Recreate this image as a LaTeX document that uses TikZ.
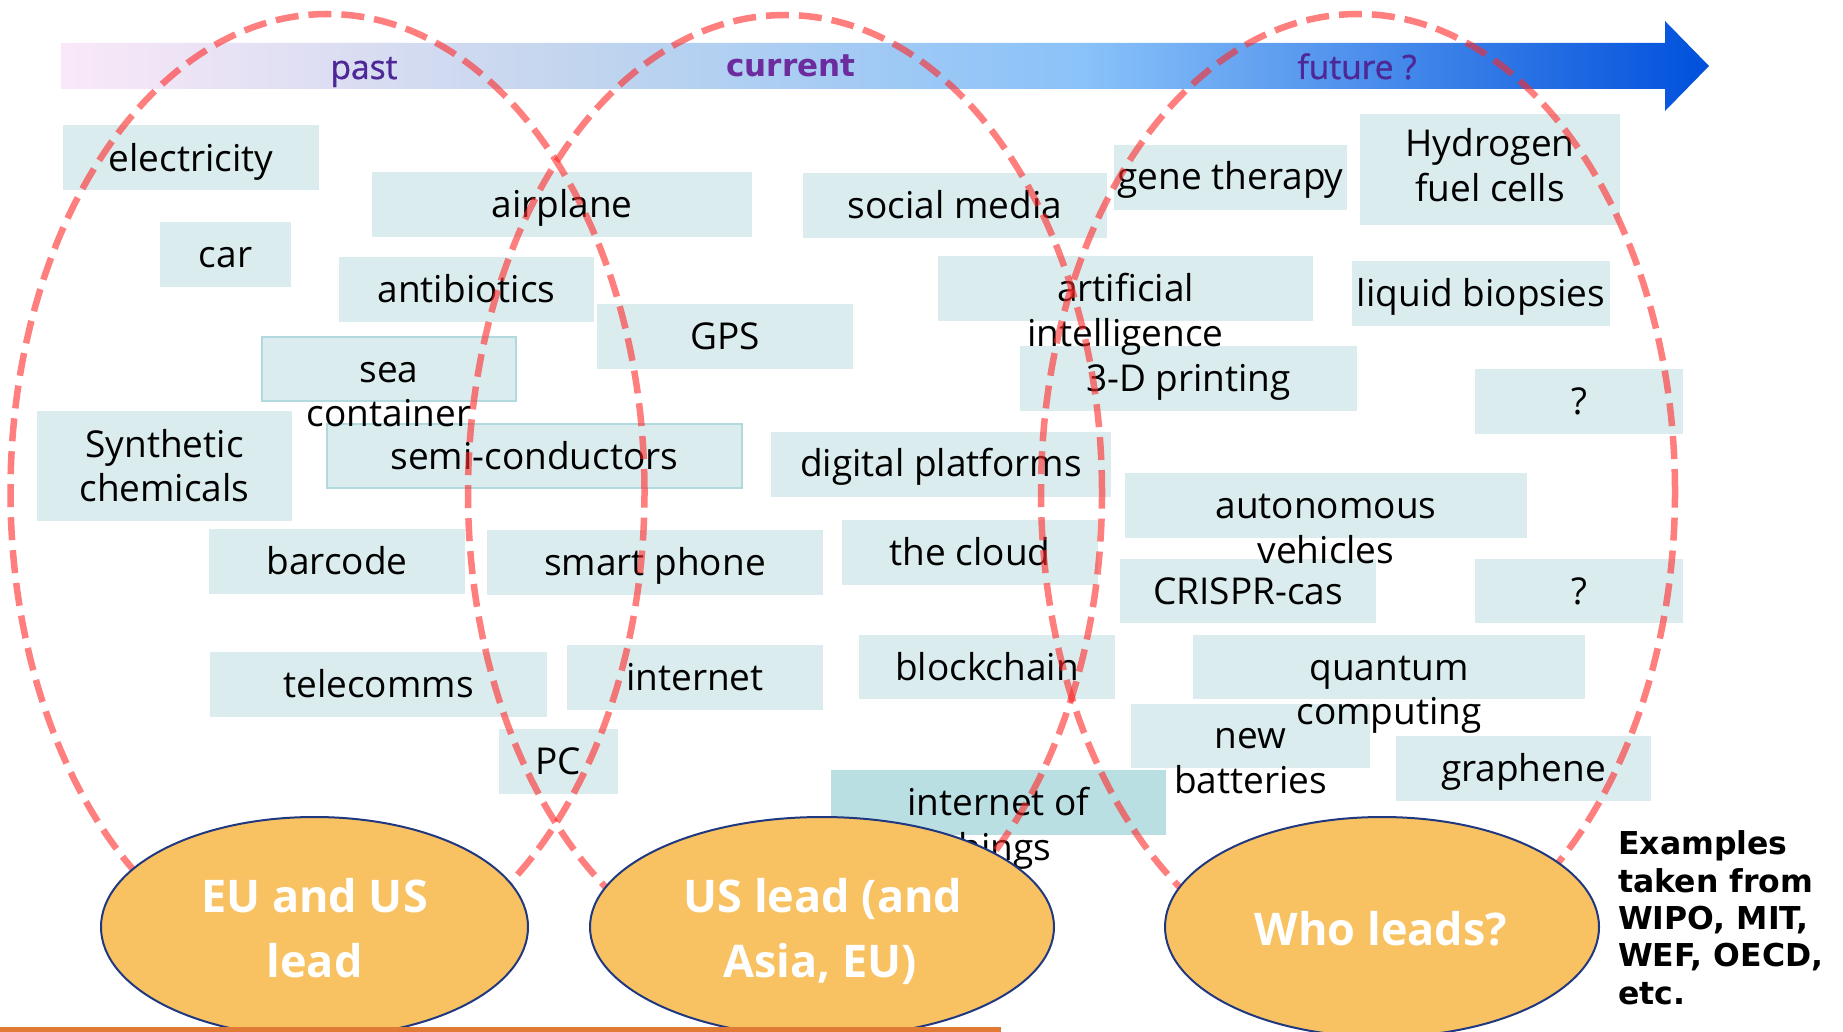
\documentclass[tikz,border=0pt]{standalone}
\usepackage{fontspec}
\setmainfont{Open Sans}
\newfontfamily\notefont{DejaVu Sans}
\newfontfamily\tlfont[FakeBold=1]{Open Sans}
\definecolor{boxfill}{RGB}{218,236,238}
\definecolor{iotfill}{RGB}{185,223,227}
\definecolor{boxline}{RGB}{178,218,222}
\definecolor{leadfill}{RGB}{248,194,99}
\definecolor{leadline}{RGB}{32,56,128}
\definecolor{tlpurple}{RGB}{78,40,150}
\definecolor{tlpurpleb}{RGB}{108,44,158}
\definecolor{dashred}{RGB}{255,40,40}
\definecolor{lineorange}{RGB}{224,122,53}
\definecolor{tla}{RGB}{250,232,248}
\definecolor{tlb}{RGB}{196,214,238}
\definecolor{tlc}{RGB}{138,194,249}
\definecolor{tld}{RGB}{0,80,220}
\pgfdeclarehorizontalshading{timeline}{100bp}{color(0bp)=(tla); color(25bp)=(tla); color(40bp)=(tlb); color(56bp)=(tlc); color(75bp)=(tld); color(100bp)=(tld)}
\tikzset{
  boxst/.style={rectangle, fill=boxfill, inner sep=0pt, outer sep=0pt},
  boxlbl/.style={anchor=base, inner sep=0pt, font=\fontsize{37}{45}\selectfont},
  dashell/.style={draw=dashred, draw opacity=0.6, line width=6.5pt, dash pattern=on 23pt off 10pt},
  leadell/.style={ellipse, fill=leadfill, draw=leadline, line width=2pt, inner sep=0pt},
  leadtxt/.style={anchor=base, inner sep=0pt, text=white, font=\fontsize{45}{55}\selectfont\bfseries},
  tlab/.style={anchor=base, inner sep=0pt, text=tlpurple, font=\tlfont\fontsize{33.5}{40}\selectfont},
  tlabb/.style={anchor=base, inner sep=0pt, text=tlpurpleb, font=\notefont\bfseries\fontsize{31}{40}\selectfont},
  notetxt/.style={anchor=base west, inner sep=0pt, font=\notefont\bfseries\fontsize{31.5}{37}\selectfont}
}
\usetikzlibrary{shapes.geometric}
\newcommand{\tbox}[6][]{\node[boxst,#1, minimum width={(#4)-(#2)}, minimum height={(#5)-(#3)}] (#6) at ({((#2)+(#4))/2},{((#3)+(#5))/2}) {};}
\newcommand{\tlbl}[4]{\node[boxlbl] (#1) at (#2,#3) {#4};}
\begin{document}
\begin{tikzpicture}[x=1pt,y=-1pt]
\useasboundingbox (0,0) rectangle (1843,1032);
\fill[white] (0,0) rectangle (1843,1032);
% timeline arrow
\shade[shading=timeline] (61,43) -- (1665,43) -- (1665,21) -- (1709,66) -- (1665,111) -- (1665,89) -- (61,89) -- cycle;
\node[tlab] (past) at (364,79) {past};
\node[tlabb] (current) at (791,77) {current};
\node[tlab] (future) at (1357,79) {future ?};
% boxes
\tbox{63}{125}{319}{190}{bElec}
\tbox{160}{222}{291}{287}{bCar}
\tbox{372}{172}{752}{237}{bAirp}
\tbox{339}{257}{594}{322}{bAnti}
\tbox{803}{173}{1107}{238}{bSoc}
\tbox{1114}{145}{1347}{210}{bGene}
\tbox{1360}{114}{1620}{225}{bHydr}
\tbox{938}{256}{1313}{321}{bAI}
\tbox{1352}{261}{1610}{326}{bLiq}
\tbox{597}{304}{853}{369}{bGPS}
\tbox[draw=boxline, line width=2pt]{262}{337}{516}{401}{bSea}
\tbox{37}{411}{292}{521}{bSyn}
\tbox[draw=boxline, line width=2pt]{327}{424}{742}{488}{bSemi}
\tbox{771}{432}{1111}{497}{bDig}
\tbox{209}{529}{465}{594}{bBar}
\tbox{487}{530}{823}{595}{bSmart}
\tbox{842}{520}{1098}{585}{bCloud}
\tbox{210}{652}{547}{717}{bTele}
\tbox{567}{645}{823}{710}{bInet}
\tbox{859}{635}{1115}{699}{bBlock}
\tbox{499}{729}{618}{794}{bPC}
\tbox[fill=iotfill]{831}{770}{1166}{835}{bIoT}
\tbox{1020}{346}{1357}{411}{bPrint}
\tbox{1475}{369}{1683}{434}{bQa}
\tbox{1125}{473}{1527}{538}{bAuto}
\tbox{1120}{559}{1376}{623}{bCrispr}
\tbox{1475}{559}{1683}{623}{bQb}
\tbox{1193}{635}{1585}{699}{bQuant}
\tbox{1131}{704}{1370}{768}{bBatt}
\tbox{1396}{736}{1651}{801}{bGraph}
% texts
\tlbl{tElec}{191}{172}{electricity}
\tlbl{tCar}{225.5}{267}{car}
\tlbl{tAirp}{562}{218}{airplane}
\tlbl{tAnti}{466.5}{302.5}{antibiotics}
\tlbl{tSoc}{955}{218.5}{social media}
\tlbl{tGene}{1230.5}{190}{gene therapy}
\tlbl{tHydrA}{1490}{157}{Hydrogen}
\tlbl{tHydrB}{1490}{202}{fuel cells}
\tlbl{tAIa}{1125.5}{301.5}{artificial}
\tlbl{tAIb}{1125.5}{346}{intelligence}
\tlbl{tLiq}{1481}{306.5}{liquid biopsies}
\tlbl{tGPS}{725}{349.5}{GPS}
\tlbl{tSeaA}{389}{382}{sea}
\tlbl{tSeaB}{389}{426.5}{container}
\tlbl{tSynA}{164.5}{457}{Synthetic}
\tlbl{tSynB}{164.5}{501}{chemicals}
\tlbl{tSemi}{534.5}{469}{semi-conductors}
\tlbl{tDig}{941}{476}{digital platforms}
\tlbl{tBar}{337}{574.5}{barcode}
\tlbl{tSmart}{655}{575.5}{smart phone}
\tlbl{tCloud}{970}{565.5}{the cloud}
\tlbl{tTele}{378.5}{697}{telecomms}
\tlbl{tInet}{695}{690.5}{internet}
\tlbl{tBlock}{987}{680}{blockchain}
\tlbl{tPC}{558.5}{774.5}{PC}
\tlbl{tIoTa}{998.5}{815.5}{internet of}
\tlbl{tIoTb}{998.5}{860}{things}
\tlbl{tPrint}{1188.5}{391.5}{3-D printing}
\tlbl{tQa}{1579}{414.5}{?}
\tlbl{tAutoA}{1326}{518.5}{autonomous}
\tlbl{tAutoB}{1326}{563}{vehicles}
\tlbl{tCrispr}{1248}{604}{CRISPR-cas}
\tlbl{tQb}{1579}{604}{?}
\tlbl{tQuantA}{1389}{680}{quantum}
\tlbl{tQuantB}{1389}{724}{computing}
\tlbl{tBattA}{1250.5}{748.5}{new}
\tlbl{tBattB}{1250.5}{793}{batteries}
\tlbl{tGraph}{1523.5}{781.5}{graphene}
% dashed ellipses
\draw[dashell] (327.5,492) ellipse [x radius=317pt, y radius=478pt];
\draw[dashell] (785,493) ellipse [x radius=317pt, y radius=478pt];
\draw[dashell] (1358,492) ellipse [x radius=317pt, y radius=478pt];
% lead ellipses
\node[leadell, minimum width=427pt, minimum height=220pt] (eEU) at (314.5,927) {};
\node[leadell, minimum width=464pt, minimum height=220pt] (eUS) at (822,927) {};
\node[leadell, minimum width=434pt, minimum height=220pt] (eWho) at (1382,927) {};
\node[leadtxt] (lEUa) at (314.5,912) {EU and US};
\node[leadtxt] (lEUb) at (314.5,977) {lead};
\node[leadtxt] (lUSa) at (823,912) {US lead (and};
\node[leadtxt] (lUSb) at (820,977) {Asia, EU)};
\node[leadtxt] (lWho) at (1381,945) {Who leads?};
% note
\node[notetxt] (n1) at (1618,854) {Examples};
\node[notetxt] (n2) at (1618,892) {taken from};
\node[notetxt] (n3) at (1618,929) {WIPO, MIT,};
\node[notetxt] (n4) at (1618,966) {WEF, OECD,};
\node[notetxt] (n5) at (1618,1004) {etc.};
% bottom line
\fill[lineorange] (0,1027) rectangle (1001,1032);
\end{tikzpicture}
\end{document}
